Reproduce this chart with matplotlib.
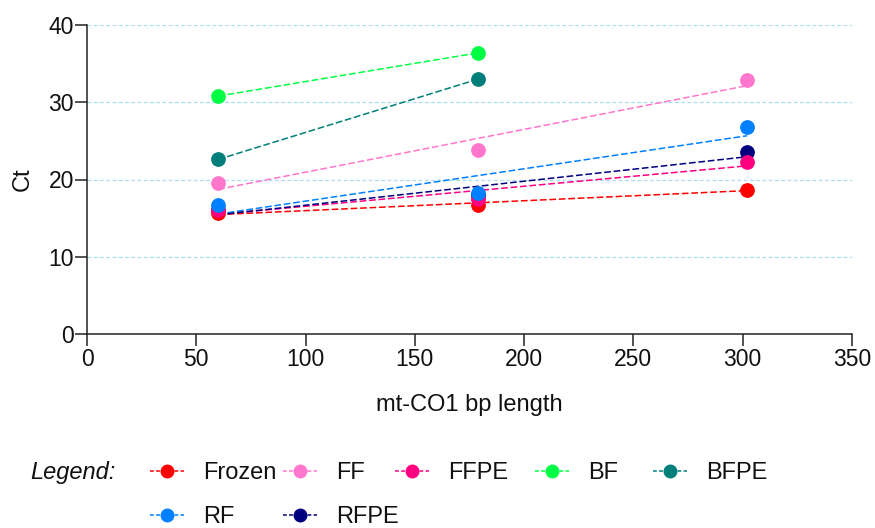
import matplotlib
matplotlib.use("Agg")
import matplotlib.pyplot as plt
from matplotlib.lines import Line2D
import numpy as np

plt.rcParams['font.family'] = ['Liberation Sans', 'DejaVu Sans']

# ---- data ----
series_names = ["Frozen", "FF", "FFPE", "BF", "BFPE", "RF", "RFPE"]
series_colors = ["#FF0000", "#FF77CC", "#FF0080", "#00FF44", "#007F7A", "#0080FF", "#00007F"]
x_frozen = [60, 179, 302]
y_frozen = [15.6, 16.7, 18.7]
x_ff = [60, 179, 302]
y_ff = [19.5, 23.8, 32.9]
x_ffpe = [60, 179, 302]
y_ffpe = [16.05, 17.5, 22.3]
x_bf = [60, 179]
y_bf = [30.8, 36.4]
x_bfpe = [60, 179]
y_bfpe = [22.6, 33.0]
x_rf = [60, 179, 302]
y_rf = [16.7, 18.2, 26.8]
x_rfpe = [60, 179, 302]
y_rfpe = [16.0, 18.0, 23.5]

xs = [x_frozen, x_ff, x_ffpe, x_bf, x_bfpe, x_rf, x_rfpe]
ys = [y_frozen, y_ff, y_ffpe, y_bf, y_bfpe, y_rf, y_rfpe]
marker_z = [4, 4.1, 4.2, 4.3, 4.4, 4.5, 3.9]

x_ticks = [0, 50, 100, 150, 200, 250, 300, 350]
y_ticks = [0, 10, 20, 30, 40]
grid_levels = [10, 20, 30, 40]

W, H = 875, 528
fig = plt.figure(figsize=(W / 100, H / 100), dpi=100)
ax = fig.add_axes([87 / W, 1 - 334 / H, (852 - 87) / W, (334 - 25) / H])

ax.set_xlim(0, 350)
ax.set_ylim(0, 40)

for g in grid_levels:
    ax.axhline(g, color="#A8DDF5", lw=0.9, ls=(0, (3, 2)), zorder=0.5)

dash = (0, (4.4, 1.8))
for xv, yv, c, z in zip(xs, ys, series_colors, marker_z):
    xv = np.asarray(xv, float)
    yv = np.asarray(yv, float)
    k, b = np.polyfit(xv, yv, 1)
    xl = np.array([xv.min(), xv.max()])
    ax.plot(xl, k * xl + b, color=c, lw=1.1, ls=dash, zorder=2)
for xv, yv, c, z in zip(xs, ys, series_colors, marker_z):
    ax.plot(xv, yv, ls="none", marker="o", ms=9.6, color=c, mec=c, zorder=z)

ax.set_xticks(x_ticks)
ax.set_yticks(y_ticks)
for s in ["top", "right"]:
    ax.spines[s].set_visible(False)
for s in ["left", "bottom"]:
    ax.spines[s].set_linewidth(1.1)
    ax.spines[s].set_color("#222222")
ax.tick_params(axis="both", direction="out", length=8.5, width=1.1, colors="#222222",
               labelsize=16.5, labelcolor="#111111")
ax.tick_params(axis="x", pad=1.5)
ax.tick_params(axis="y", pad=1)
ax.set_xlabel("mt-CO1 bp length", fontsize=17, labelpad=17, color="#111111")
ax.set_ylabel("Ct", fontsize=17, labelpad=10.5, color="#111111")

# ---- legend ----
fs = 17
fig.text(30 / W, 1 - 473 / H, "Legend:", fontsize=fs, style="italic", ha="left", va="center",
         color="#111111")
entry_pos = [(150, 473), (283, 473), (395, 473), (535, 473), (653, 473), (150, 517), (283, 517)]
for name, c, (px, py) in zip(series_names, series_colors, entry_pos):
    h = Line2D([], [], color=c, lw=1.1, ls=(0, (2.5, 1.5)), marker="o", ms=9, mec=c)
    leg = fig.legend([h], [name], loc="center left", bbox_to_anchor=(px / W, 1 - py / H),
                     frameon=False, fontsize=fs, handlelength=1.44, handletextpad=0.8,
                     borderpad=0, borderaxespad=0, numpoints=1)
    for t in leg.get_texts():
        t.set_color("#111111")

fig.savefig("out.png", dpi=100)
